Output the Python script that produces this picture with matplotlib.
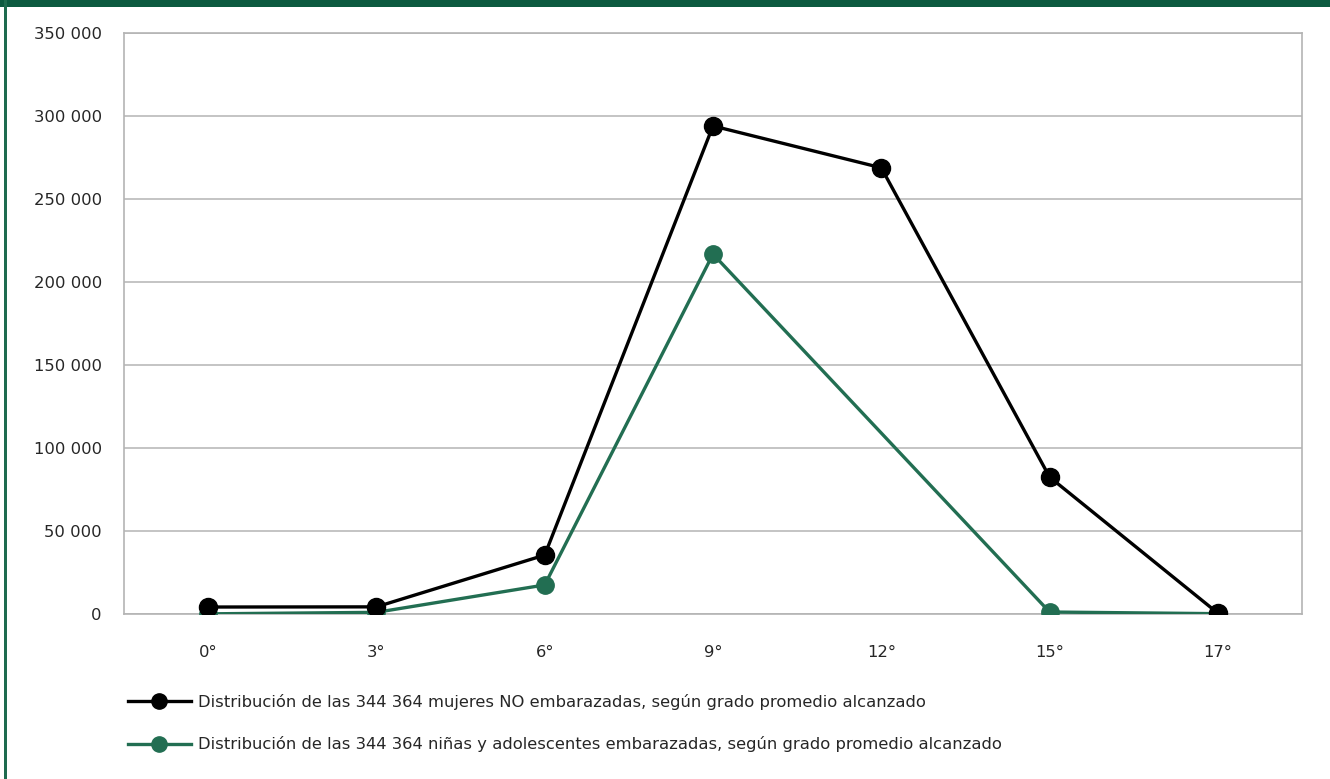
import numpy as np
import matplotlib
matplotlib.use("Agg")
import matplotlib.pyplot as plt
from matplotlib.lines import Line2D
from matplotlib.patches import Rectangle

categories = ["0°", "3°", "6°", "9°", "12°", "15°", "17°"]
no_embarazadas = [4200, 4300, 35500, 294000, 268800, 82500, 500]
embarazadas = [100, 1000, 17500, 216800, np.nan, 1200, 200]
label_no = "Distribución de las 344 364 mujeres NO embarazadas, según grado promedio alcanzado"
label_si = "Distribución de las 344 364 niñas y adolescentes embarazadas, según grado promedio alcanzado"
yticks = [0, 50000, 100000, 150000, 200000, 250000, 300000, 350000]

plt.rcParams['font.family'] = ['DejaVu Sans']
BLACK = "#000000"
GREEN = "#226e52"
GRID = "#b4b4b4"
TXT = "#262626"
FS = 11.8

fig = plt.figure(figsize=(13.3, 7.79), dpi=100)
ax = fig.add_axes([124/1330, 1 - 614/779, (1302-124)/1330, (614-33)/779])

x = np.arange(len(categories))
y1 = np.array(no_embarazadas, dtype=float)
y2 = np.array(embarazadas, dtype=float)
m2 = ~np.isnan(y2)

ax.plot(x[m2], y2[m2], color=GREEN, lw=2.4, marker='o', ms=12.5, zorder=3)
ax.plot(x, y1, color=BLACK, lw=2.4, marker='o', ms=13, zorder=4)

ax.set_xlim(-0.5, len(categories) - 0.5)
ax.set_ylim(0, 350000)
ax.set_yticks(yticks)
ax.set_yticklabels([f"{v:,}".replace(",", " ") for v in yticks])
ax.set_xticks(x)
ax.set_xticklabels(categories)
ax.tick_params(axis='both', length=0, labelsize=FS, colors=TXT)
ax.tick_params(axis='y', pad=16)
ax.tick_params(axis='x', pad=22)
ax.grid(axis='y', color=GRID, lw=1.1)
ax.set_axisbelow(True)
for s in ax.spines.values():
    s.set_color(GRID)
    s.set_linewidth(1.2)

handles = [
    Line2D([0], [0], color=BLACK, lw=2.4, marker='o', ms=11),
    Line2D([0], [0], color=GREEN, lw=2.4, marker='o', ms=11),
]
fig.legend(handles, [label_no, label_si], loc='upper left',
           bbox_to_anchor=(113/1330, 1 - 679/779), frameon=False,
           fontsize=FS, handlelength=3.85, handletextpad=0.45,
           labelspacing=1.62, labelcolor=TXT)

# decorative border
fig.add_artist(Rectangle((0, 1 - 7/779), 1, 7/779, transform=fig.transFigure,
                         color="#0c5a40", lw=0))
fig.add_artist(Rectangle((4/1330, 0), 2.5/1330, 1, transform=fig.transFigure,
                         color="#1e6b4f", lw=0))

fig.savefig("out.png", dpi=100)
